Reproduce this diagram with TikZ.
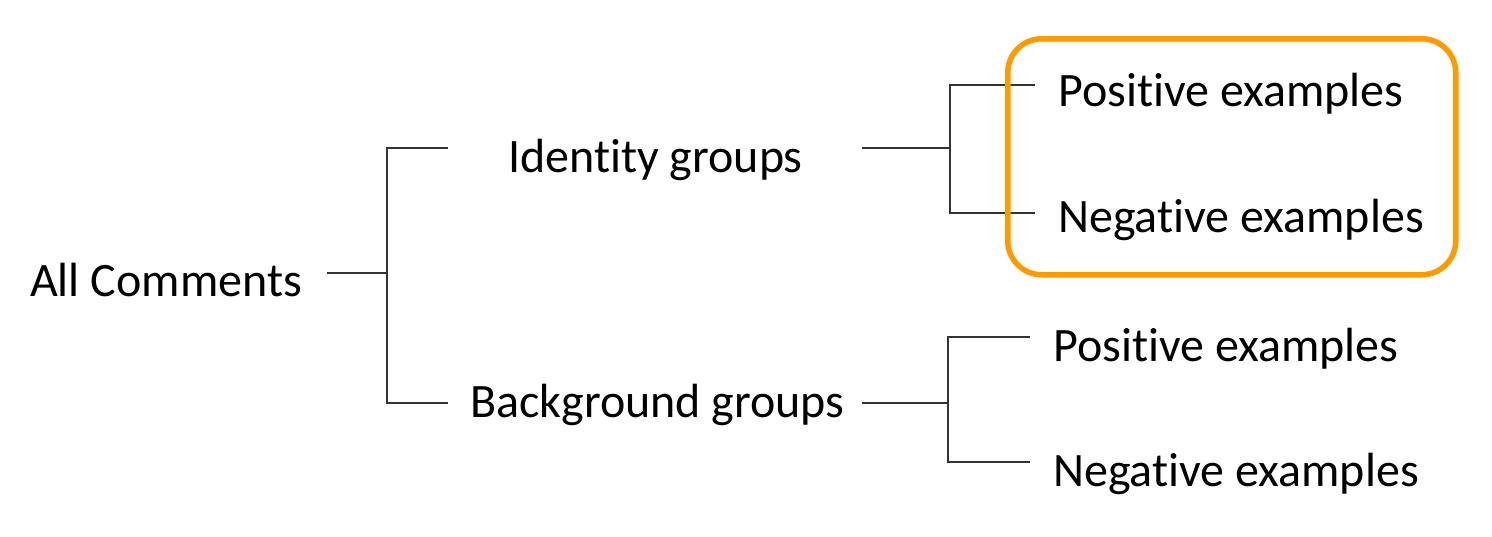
\documentclass[tikz,border=0pt]{standalone}
\usepackage{fontspec}
\setmainfont{Carlito}[Ligatures={NoCommon}]
\definecolor{boxorange}{HTML}{FF9A00}
\definecolor{linegray}{HTML}{333333}
\begin{document}
\begin{tikzpicture}[x=1pt,y=-1pt,
  lbl/.style={anchor=base west,inner sep=0pt,font=\fontsize{48}{52}\selectfont},
  tree/.style={draw=linegray,line width=2pt},
  hl/.style={draw=boxorange,line width=5.5pt,rounded corners=34pt}]
\useasboundingbox (0,0) rectangle (1492,536);
\node[lbl] (all) at (30,296) {All Comments};
\node[lbl] (id) at (508,172) {Identity groups};
\node[lbl] (bg) at (470,417) {Background groups};
\node[lbl] (p1) at (1058,106) {Positive examples};
\node[lbl] (n1) at (1058,232) {Negative examples};
\node[lbl] (p2) at (1053,361) {Positive examples};
\node[lbl] (n2) at (1053,486) {Negative examples};
% junctions
\coordinate (j0) at (387,273);
\coordinate (a0) at (327,273);
\coordinate (t0) at (448,148);
\coordinate (b0) at (448,403);
\coordinate (j1) at (950,148);
\coordinate (a1) at (862,148);
\coordinate (t1) at (1035,85);
\coordinate (b1) at (1035,213);
\coordinate (j2) at (948,403);
\coordinate (a2) at (862,403);
\coordinate (t2) at (1030,337);
\coordinate (b2) at (1030,462);
\draw[tree] (a0) -- (j0);
\draw[tree] (t0) -- (t0 -| j0) -- (b0 -| j0) -- (b0);
\draw[tree] (a1) -- (j1);
\draw[tree] (t1) -- (t1 -| j1) -- (b1 -| j1) -- (b1);
\draw[tree] (a2) -- (j2);
\draw[tree] (t2) -- (t2 -| j2) -- (b2 -| j2) -- (b2);
\node[hl,minimum width=448pt,minimum height=236pt,anchor=north west] (box) at (1005,36) {};
\end{tikzpicture}
\end{document}
